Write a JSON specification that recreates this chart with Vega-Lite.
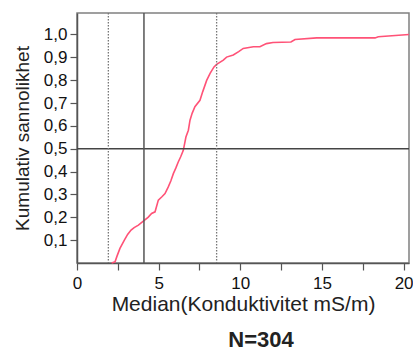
{
  "$schema": "https://vega.github.io/schema/vega-lite/v6.json",
  "autosize": "none",
  "width": 332,
  "height": 250,
  "padding": {"left": 77, "top": 13, "right": 4, "bottom": 90},
  "background": "white",
  "config": {
    "font": "Liberation Sans",
    "locale": {"number": {"decimal": ",", "thousands": " ", "grouping": [3], "currency": ["", " kr"]}},
    "view": {"stroke": "#808080", "strokeWidth": 1.5},
    "axis": {"grid": false, "domainColor": "#555", "tickColor": "#555", "labelColor": "#111", "titleColor": "#222", "domainWidth": 1.5, "tickWidth": 1.2, "tickSize": 7, "labelFont": "Liberation Sans", "titleFont": "Liberation Sans", "titleFontWeight": "normal", "labelOverlap": false}
  },
  "title": {"text": "N=304", "orient": "bottom", "fontSize": 22, "fontWeight": "bold", "color": "#222", "dx": 18, "offset": 16, "font": "Liberation Sans"},
  "datasets": {
    "cdf": [
      {"x": 2.12, "p": 0}, {"x": 2.33, "p": 0.005}, {"x": 2.45, "p": 0.03}, {"x": 2.63, "p": 0.064},
      {"x": 2.9, "p": 0.1}, {"x": 3.1, "p": 0.125}, {"x": 3.31, "p": 0.144}, {"x": 3.5, "p": 0.155},
      {"x": 3.76, "p": 0.166}, {"x": 4.1, "p": 0.185}, {"x": 4.35, "p": 0.2}, {"x": 4.57, "p": 0.217},
      {"x": 4.78, "p": 0.224}, {"x": 4.98, "p": 0.275}, {"x": 5.2, "p": 0.29}, {"x": 5.39, "p": 0.304},
      {"x": 5.59, "p": 0.333}, {"x": 5.75, "p": 0.36}, {"x": 5.9, "p": 0.391}, {"x": 6.05, "p": 0.415},
      {"x": 6.2, "p": 0.442}, {"x": 6.35, "p": 0.465}, {"x": 6.51, "p": 0.493}, {"x": 6.67, "p": 0.551},
      {"x": 6.82, "p": 0.581}, {"x": 6.92, "p": 0.625}, {"x": 7.05, "p": 0.655}, {"x": 7.22, "p": 0.684},
      {"x": 7.53, "p": 0.712}, {"x": 7.7, "p": 0.75}, {"x": 7.94, "p": 0.799}, {"x": 8.15, "p": 0.83},
      {"x": 8.39, "p": 0.858}, {"x": 8.55, "p": 0.869}, {"x": 8.96, "p": 0.888}, {"x": 9.16, "p": 0.901},
      {"x": 9.57, "p": 0.91}, {"x": 9.9, "p": 0.925}, {"x": 10.18, "p": 0.939}, {"x": 10.8, "p": 0.946},
      {"x": 11.2, "p": 0.946}, {"x": 11.6, "p": 0.96}, {"x": 12.0, "p": 0.965}, {"x": 13.1, "p": 0.967},
      {"x": 13.35, "p": 0.978}, {"x": 14.68, "p": 0.985}, {"x": 18.25, "p": 0.985}, {"x": 18.45, "p": 0.99},
      {"x": 20.33, "p": 1.0}
    ],
    "vlines": [
      {"x": 1.92, "kind": "dotted"}, {"x": 4.1, "kind": "solid"}, {"x": 8.55, "kind": "dotted"}
    ],
    "hline": [{"p": 0.5}]
  },
  "layer": [
    {
      "data": {"name": "cdf"},
      "mark": {"type": "line", "color": "#ff5277", "strokeWidth": 1.6},
      "encoding": {
        "x": {"field": "x", "type": "quantitative", "scale": {"domain": [0, 20.33], "nice": false, "zero": false},
          "axis": {"title": "Median(Konduktivitet mS/m)", "values": [0, 2.5, 5, 7.5, 10, 12.5, 15, 17.5, 20], "tickCount": 20, "labelExpr": "datum.value % 5 == 0 ? datum.label : ''", "labelFontSize": 17, "titleFontSize": 21, "labelPadding": 5, "titlePadding": 2, "labelFlush": false}},
        "y": {"field": "p", "type": "quantitative", "scale": {"domain": [0, 1.094], "nice": false, "zero": false},
          "axis": {"title": "Kumulativ sannolikhet", "values": [0.1, 0.2, 0.3, 0.4, 0.5, 0.6, 0.7, 0.8, 0.9, 1.0], "tickCount": 20, "format": ".1f", "labelFontSize": 17, "titleFontSize": 19, "labelPadding": 3, "titlePadding": 11, "labelFlush": false, "labelOverlap": false}}
      }
    },
    {
      "data": {"name": "hline"},
      "mark": {"type": "rule", "color": "#444", "strokeWidth": 1.5},
      "encoding": {"y": {"field": "p", "type": "quantitative"}}
    },
    {
      "data": {"name": "vlines"},
      "transform": [{"filter": "datum.kind == 'solid'"}],
      "mark": {"type": "rule", "color": "#555", "strokeWidth": 1.5},
      "encoding": {"x": {"field": "x", "type": "quantitative"}}
    },
    {
      "data": {"name": "vlines"},
      "transform": [{"filter": "datum.kind == 'dotted'"}],
      "mark": {"type": "rule", "color": "#777", "strokeWidth": 1.3, "strokeDash": [1.5, 1.5]},
      "encoding": {"x": {"field": "x", "type": "quantitative"}}
    }
  ]
}
